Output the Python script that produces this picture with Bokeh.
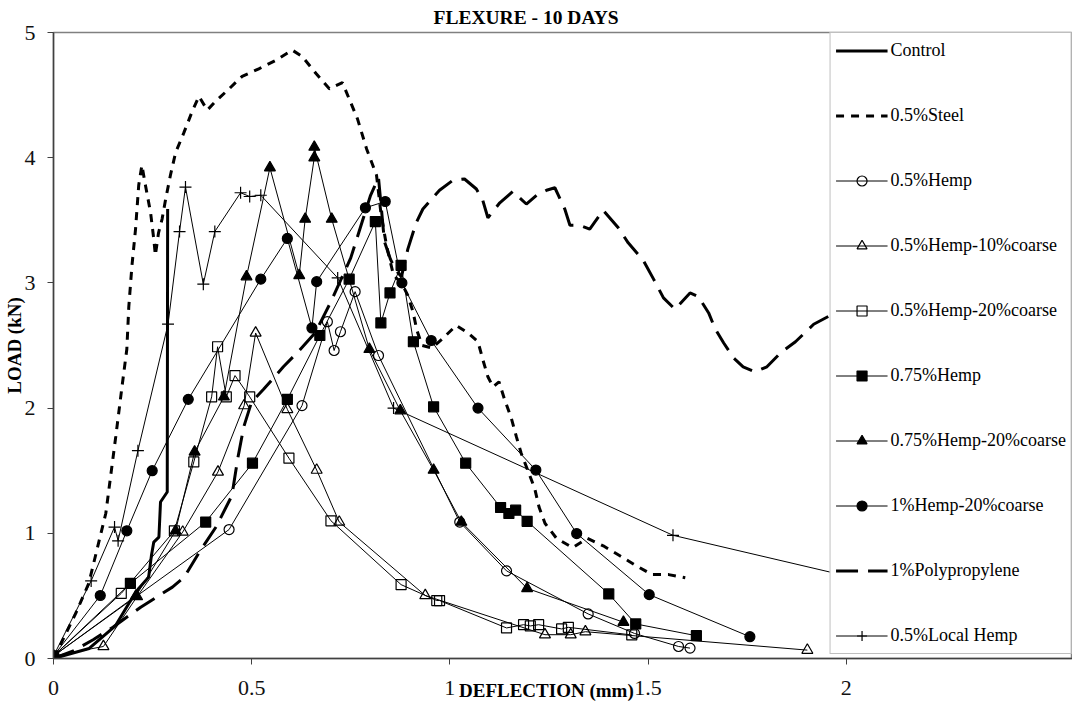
from bokeh.plotting import figure
from bokeh.models import Range1d, FixedTicker, Legend, LegendItem
from bokeh.embed import file_html
from bokeh.resources import INLINE

# ---------------- data ----------------
x_ticks = [0, 0.5, 1, 1.5, 2]
x_tick_labels = ["0", "0.5", "1", "1.5", "2"]
y_ticks = [0, 1, 2, 3, 4, 5]

control_x = [0, 0.09, 0.156, 0.19, 0.215, 0.24, 0.247, 0.253, 0.266, 0.27, 0.287, 0.288]
control_y = [0, 0.08, 0.26, 0.44, 0.56, 0.65, 0.82, 0.93, 0.97, 1.25, 1.33, 3.59]

steel_x = [0, 0.013, 0.056, 0.089, 0.132, 0.157, 0.172, 0.185, 0.19, 0.198, 0.207, 0.215, 0.223,
           0.232, 0.245, 0.253, 0.257, 0.265, 0.274, 0.283, 0.295, 0.308, 0.329, 0.35, 0.367, 0.388,
           0.409, 0.443, 0.476, 0.518, 0.562, 0.602, 0.627, 0.663, 0.696, 0.729, 0.746, 0.767, 0.79,
           0.815, 0.826, 0.84, 0.858, 0.878, 0.894, 0.907, 0.917, 0.93, 0.955, 0.98, 1.016, 1.046,
           1.071, 1.083, 1.096, 1.109, 1.124, 1.138, 1.155, 1.168, 1.18, 1.197, 1.214, 1.225, 1.24,
           1.269, 1.31, 1.347, 1.387, 1.429, 1.471, 1.51, 1.552, 1.594]
steel_y = [0, 0.08, 0.36, 0.6, 1.16, 1.77, 2.15, 2.47, 2.81, 3.14, 3.43, 3.78, 3.94,
           3.78, 3.56, 3.35, 3.22, 3.4, 3.51, 3.67, 3.86, 4.04, 4.2, 4.37, 4.49, 4.38,
           4.45, 4.55, 4.65, 4.71, 4.78, 4.86, 4.81, 4.67, 4.55, 4.6, 4.47, 4.31, 4.07,
           3.86, 3.56, 3.3, 3.06, 3.0, 2.9, 2.77, 2.62, 2.5, 2.48, 2.55, 2.66, 2.6,
           2.53, 2.39, 2.25, 2.17, 2.21, 2.07, 1.92, 1.77, 1.64, 1.5, 1.36, 1.21, 1.08,
           0.96, 0.885, 0.96, 0.90, 0.82, 0.74, 0.67, 0.67, 0.645]

hemp_x = [0, 0.443, 0.627, 0.691, 0.708, 0.724, 0.761, 0.820, 1.025, 1.143, 1.349, 1.466, 1.577, 1.606]
hemp_y = [0.02, 1.03, 2.02, 2.69, 2.46, 2.61, 2.93, 2.42, 1.09, 0.70, 0.356, 0.20, 0.096, 0.083]

h10_x = [0, 0.126, 0.211, 0.326, 0.415, 0.481, 0.510, 0.590, 0.664, 0.721, 0.938, 1.240, 1.305, 1.342, 1.902]
h10_y = [0.02, 0.096, 0.495, 1.01, 1.49, 2.02, 2.60, 1.99, 1.505, 1.09, 0.503, 0.19, 0.19, 0.214, 0.067]

h20_x = [0, 0.171, 0.305, 0.354, 0.399, 0.414, 0.436, 0.458, 0.495, 0.594, 0.700, 0.877, 0.967,
         0.974, 1.143, 1.186, 1.203, 1.224, 1.282, 1.299, 1.459]
h20_y = [0.02, 0.52, 1.02, 1.57, 2.09, 2.49, 2.09, 2.26, 2.09, 1.60, 1.10, 0.59, 0.463,
         0.463, 0.244, 0.27, 0.26, 0.27, 0.236, 0.249, 0.188]

h75_x = [0, 0.194, 0.384, 0.502, 0.590, 0.672, 0.746, 0.812, 0.826, 0.849, 0.877, 0.908, 0.959,
         1.040, 1.128, 1.149, 1.166, 1.195, 1.401, 1.469, 1.622]
h75_y = [0.02, 0.60, 1.09, 1.56, 2.07, 2.58, 3.03, 3.49, 2.68, 2.92, 3.14, 2.53, 2.01,
         1.56, 1.206, 1.158, 1.185, 1.096, 0.516, 0.276, 0.182]

h75c_x = [0, 0.208, 0.308, 0.356, 0.430, 0.487, 0.546, 0.620, 0.635, 0.658, 0.658, 0.702, 0.797,
          0.875, 0.959, 1.029, 1.195, 1.438]
h75c_y = [0.02, 0.50, 1.02, 1.65, 2.09, 3.05, 3.92, 3.06, 3.51, 4.0, 4.085, 3.51, 2.47,
          1.98, 1.505, 1.09, 0.56, 0.29]

h1_x = [0, 0.118, 0.185, 0.249, 0.34, 0.523, 0.590, 0.652, 0.664, 0.787, 0.837, 0.879, 0.953,
        1.071, 1.217, 1.320, 1.503, 1.757]
h1_y = [0.02, 0.503, 1.02, 1.50, 2.07, 3.03, 3.355, 2.64, 3.01, 3.60, 3.65, 3.0, 2.54,
        2.0, 1.505, 0.998, 0.51, 0.174]

pp_x = [0, 0.05, 0.10, 0.15, 0.22, 0.26, 0.30, 0.33, 0.37, 0.41, 0.45, 0.465, 0.48, 0.50, 0.53,
        0.58, 0.62, 0.66, 0.70, 0.75, 0.78, 0.80, 0.82, 0.835, 0.85, 0.864, 0.878, 0.894, 0.915,
        0.932, 0.974, 1.008, 1.037, 1.067, 1.083, 1.096, 1.126, 1.159, 1.193, 1.219, 1.244, 1.265,
        1.29, 1.303, 1.328, 1.353, 1.387, 1.425, 1.45, 1.488, 1.514, 1.539, 1.568, 1.606, 1.627,
        1.653, 1.67, 1.691, 1.716, 1.74, 1.77, 1.80, 1.834, 1.872, 1.918, 1.96]
pp_y = [0, 0.06, 0.15, 0.25, 0.41, 0.49, 0.57, 0.65, 0.86, 1.05, 1.3, 1.6, 1.85, 2.05, 2.15,
        2.33, 2.46, 2.6, 2.85, 3.2, 3.5, 3.7, 3.84, 3.33, 3.19, 3.1, 3.05, 3.27, 3.48,
        3.59, 3.74, 3.82, 3.83, 3.75, 3.66, 3.52, 3.64, 3.73, 3.63, 3.70, 3.74, 3.76,
        3.59, 3.46, 3.46, 3.43, 3.58, 3.44, 3.32, 3.18, 3.03, 2.88, 2.79, 2.92, 2.89,
        2.76, 2.63, 2.52, 2.40, 2.33, 2.29, 2.33, 2.44, 2.53, 2.67, 2.74]

lh_x = [0, 0.095, 0.154, 0.163, 0.213, 0.289, 0.318, 0.333, 0.378, 0.407, 0.472, 0.495, 0.523,
        0.717, 0.858, 1.563, 2.0]
lh_y = [0.02, 0.62, 1.05, 0.94, 1.66, 2.67, 3.41, 3.765, 2.99, 3.41, 3.72, 3.69, 3.70,
        3.04, 2.0, 0.984, 0.66]

# ---------------- figure ----------------
FONT = "Liberation Serif"
p = figure(width=1072, height=703, x_range=Range1d(0, 2.571), y_range=Range1d(0, 5),
           output_backend="svg", toolbar_location=None,
           min_border_left=47, min_border_right=0, min_border_top=26, min_border_bottom=0,
           title="FLEXURE - 10 DAYS")
p.grid.visible = False
p.outline_line_color = "#808080"
p.outline_line_width = 1.5
p.background_fill_color = "white"
p.border_fill_color = "white"

p.title.text_font = FONT
p.title.text_font_size = "19.5px"
p.title.text_font_style = "bold"
p.title.text_color = "black"
p.title.align = "left"
p.title.offset = 380
p.title.standoff = 9

for ax in (p.xaxis[0], p.yaxis[0]):
    ax.axis_line_color = "#404040"
    ax.axis_line_width = 1.5
    ax.major_tick_line_color = "#404040"
    ax.major_tick_in = 0
    ax.major_tick_out = 6
    ax.minor_tick_line_color = None
    ax.major_label_text_font = FONT
    ax.major_label_text_font_size = "22px"
    ax.major_label_text_color = "#111111"
    ax.axis_label_text_font = FONT
    ax.axis_label_text_font_size = "19px"
    ax.axis_label_text_font_style = "bold"
    ax.axis_label_text_color = "black"

p.xaxis.ticker = FixedTicker(ticks=x_ticks)
p.xaxis.major_label_overrides = {t: s for t, s in zip(x_ticks, x_tick_labels)}
# trailing no-break spaces shift the centred label left, as in the reference
p.xaxis.axis_label = "DEFLECTION (mm)" + "\u00a0" * 7
p.xaxis.major_label_standoff = 16
p.xaxis.axis_label_standoff = -18

p.yaxis.ticker = FixedTicker(ticks=y_ticks)
p.yaxis.axis_label = "LOAD (kN)"
p.yaxis.major_label_standoff = 12
p.yaxis.axis_label_standoff = -3

items = []

r = p.line(control_x, control_y, line_color="black", line_width=3)
items.append(LegendItem(label="Control", renderers=[r]))

r = p.line(steel_x, steel_y, line_color="black", line_width=3, line_dash="8 7")
items.append(LegendItem(label="0.5%Steel", renderers=[r]))

marker_series = [
    ("0.5%Hemp", hemp_x, hemp_y, "circle", False),
    ("0.5%Hemp-10%coarse", h10_x, h10_y, "triangle", False),
    ("0.5%Hemp-20%coarse", h20_x, h20_y, "square", False),
    ("0.75%Hemp", h75_x, h75_y, "square", True),
    ("0.75%Hemp-20%coarse", h75c_x, h75c_y, "triangle", True),
    ("1%Hemp-20%coarse", h1_x, h1_y, "circle", True),
]
for name, xs, ys, mk, filled in marker_series:
    rl = p.line(xs, ys, line_color="black", line_width=1)
    rs = p.scatter(xs, ys, marker=mk, size=11 if mk == "triangle" else 10,
                   line_color="black", line_width=1.2,
                   fill_color="black" if filled else None)
    items.append(LegendItem(label=name, renderers=[rl, rs]))

r = p.line(pp_x, pp_y, line_color="black", line_width=3, line_dash="22 10")
items.append(LegendItem(label="1%Polypropylene", renderers=[r]))

rl = p.line(lh_x, lh_y, line_color="black", line_width=1)
rs = p.scatter(lh_x, lh_y, marker="cross", size=12, line_color="black", line_width=1.2)
items.append(LegendItem(label="0.5%Local Hemp", renderers=[rl, rs]))

legend = Legend(items=items, location="top_right")
legend.border_line_color = "#808080"
legend.border_line_width = 1.5
legend.background_fill_color = "white"
legend.background_fill_alpha = 1.0
legend.padding = 5
legend.margin = 0
legend.spacing = 40
legend.glyph_width = 52
legend.glyph_height = 25
legend.label_height = 25
legend.label_standoff = 3
legend.label_text_font = FONT
legend.label_text_font_size = "18px"
legend.label_text_color = "black"
p.add_layout(legend)

open("out.html", "w").write(file_html(p, INLINE))
